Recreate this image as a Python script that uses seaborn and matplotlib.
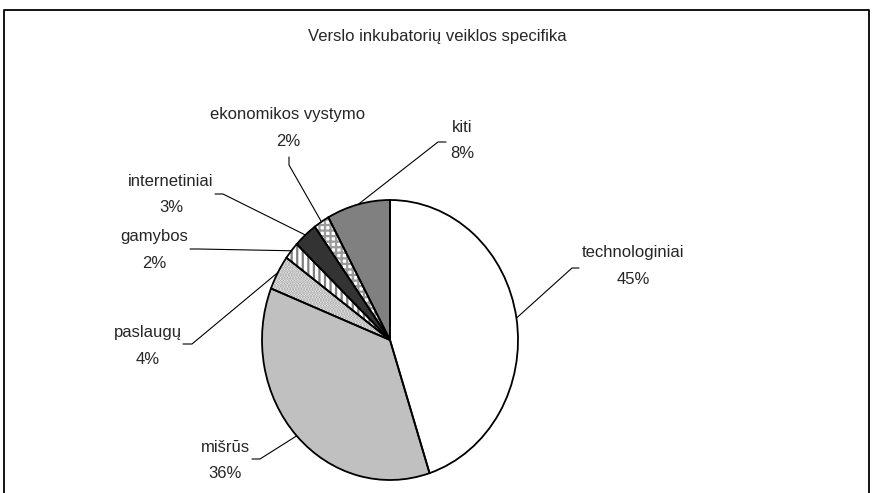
import numpy as np
import matplotlib
matplotlib.use("Agg")
import matplotlib.pyplot as plt
import seaborn as sns

# data
categories = ["technologiniai", "mišrūs", "paslaugų", "gamybos",
              "internetiniai", "ekonomikos vystymo", "kiti"]
shares = [45, 36, 4, 2, 3, 2, 8]
title = "Verslo inkubatorių veiklos specifika"

# styles per slice
fills = ["white", "#c0c0c0", "white", "white", "#333333", "white", "#808080"]
hatches = [None, None, "......", "|||", None, "+++", None]
hatch_cols = [None, None, "#9a9a9a", "#808080", None, "#9a9a9a", None]

# label layout in image pixels (name centre, elbow of leader, end of leader)
name_pos = [(633, 253), (225, 447), (148, 333), (154, 237), (171, 181), (288, 115), (462, 128)]
elbow_pos = [(572, 268), (260, 459), (192, 344), (198, 249), (223, 194), (289, 165), (438, 142)]
tail_pos = [(579, 268), (252, 459), (183, 344), (190, 249), (215, 194), (289, 157), (446, 142)]

sns.set_theme(style="white")
plt.rcParams['font.family'] = ['Liberation Sans', 'DejaVu Sans']
plt.rcParams['hatch.linewidth'] = 1.6

W, H = 873, 493
fig = plt.figure(figsize=(W / 100, H / 100), dpi=100)
fig.patch.set_facecolor("white")

# pie centre and radii in pixels (slightly squashed horizontally like the original)
cx, cy, rx, ry = 390, 340, 128, 140
ax = fig.add_axes([(cx - rx) / W, (H - cy - ry) / H, 2 * rx / W, 2 * ry / H])

wedges, _ = ax.pie(shares, colors=fills, startangle=90, counterclock=False,
                   wedgeprops=dict(edgecolor="none", linewidth=0))
# hatch overlay
hw, _ = ax.pie(shares, colors=["none"] * len(shares), startangle=90, counterclock=False)
for w, h, hc in zip(hw, hatches, hatch_cols):
    if h:
        w.set_hatch(h)
        w.set_edgecolor(hc)
        w.set_linewidth(0)
    else:
        w.set_visible(False)
# outlines
ow, _ = ax.pie(shares, colors=["none"] * len(shares), startangle=90, counterclock=False,
               wedgeprops=dict(edgecolor="black", linewidth=1.3))
ax.set_aspect("auto")
ax.set_xlim(-1, 1)
ax.set_ylim(-1, 1)
ax.axis("off")

# overlay axes in pixel coordinates
top = fig.add_axes([0, 0, 1, 1], facecolor="none")
top.set_xlim(0, W)
top.set_ylim(H, 0)
top.axis("off")

top.text(437, 36, title, ha="center", va="center", fontsize=12)

for w, name, val, npos, el, tl in zip(wedges, categories, shares, name_pos, elbow_pos, tail_pos):
    mid = np.deg2rad((w.theta1 + w.theta2) / 2)
    px, py = ax.transData.transform((np.cos(mid), np.sin(mid)))
    py = H - py
    top.plot([px, el[0], tl[0]], [py, el[1], tl[1]], color="black", lw=0.8)
    top.text(npos[0], npos[1], name, ha="center", va="center", fontsize=12)
    top.text(npos[0], npos[1] + 26, f"{val}%", ha="center", va="center", fontsize=12)

# chart frame (bottom edge falls outside the image)
top.plot([4, 4, 869, 869], [H + 5, 10, 10, H + 5], color="black", lw=1.3)

fig.savefig("out.png", dpi=100, facecolor="white")
